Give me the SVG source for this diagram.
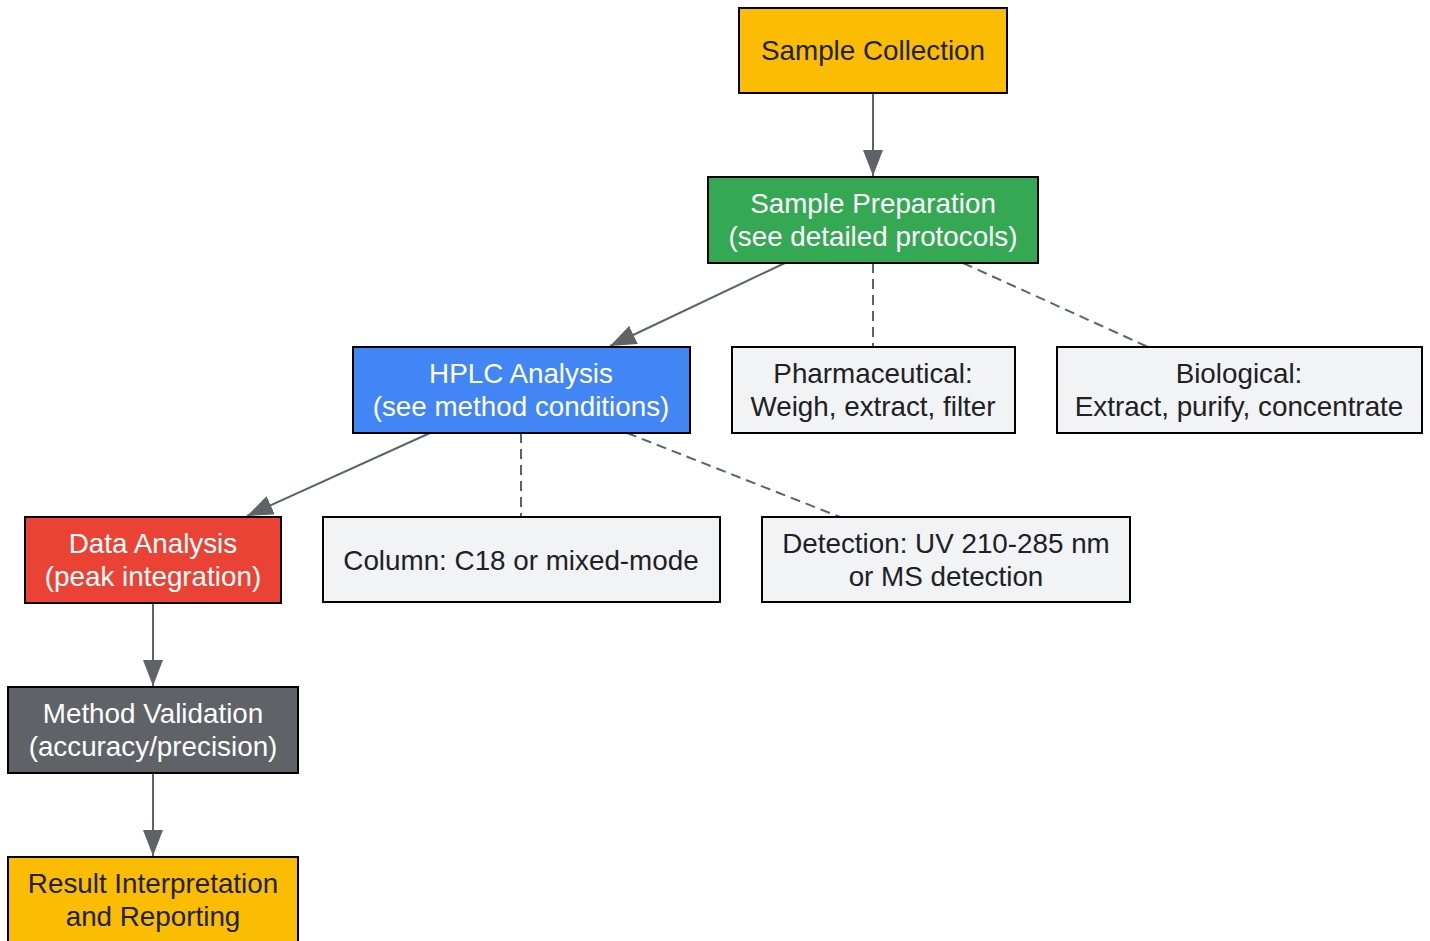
<svg xmlns="http://www.w3.org/2000/svg" width="1430" height="941" viewBox="0 0 1430 941">
<style>
.box{stroke:#000;stroke-width:2}
.t{font-family:"Liberation Sans",Arial,sans-serif;font-size:27.8px;text-anchor:middle}
.dk{fill:#202124}
.wh{fill:#ffffff}
.e{stroke:#5F6368;stroke-width:2;fill:none}
.d{stroke-dasharray:10,6}
</style>
<defs>
<marker id="ah" markerWidth="26" markerHeight="20" refX="26" refY="10" orient="auto" markerUnits="userSpaceOnUse">
<path d="M0,0 L26,10 L0,20 Z" fill="#5F6368"/>
</marker>
</defs>
<rect width="1430" height="941" fill="#ffffff"/>
<g id="connectors">
<line class="e" x1="873" y1="93" x2="873" y2="176" marker-end="url(#ah)"/>
<line class="e" x1="785" y1="263" x2="610" y2="346" marker-end="url(#ah)"/>
<line class="e d" x1="873" y1="263" x2="873" y2="347"/>
<line class="e d" x1="963" y1="263" x2="1148" y2="347"/>
<line class="e" x1="430" y1="433" x2="247" y2="516" marker-end="url(#ah)"/>
<line class="e d" x1="521" y1="433" x2="521" y2="517"/>
<line class="e d" x1="627" y1="433" x2="840" y2="517"/>
<line class="e" x1="153" y1="603" x2="153" y2="686" marker-end="url(#ah)"/>
<line class="e" x1="153" y1="773" x2="153" y2="856" marker-end="url(#ah)"/>
</g>
<g id="sample-collection">
<rect class="box" x="739" y="8" width="268" height="85" fill="#FBBC04"/>
<text class="t dk" x="873" y="60">Sample Collection</text>
</g>
<g id="sample-preparation">
<rect class="box" x="708" y="177" width="330" height="86" fill="#34A853"/>
<text class="t wh" x="873" y="213">Sample Preparation</text>
<text class="t wh" x="873" y="246">(see detailed protocols)</text>
</g>
<g id="hplc">
<rect class="box" x="353" y="347" width="337" height="86" fill="#4285F4"/>
<text class="t wh" x="521" y="383">HPLC Analysis</text>
<text class="t wh" x="521" y="416">(see method conditions)</text>
</g>
<g id="pharmaceutical">
<rect class="box" x="732" y="347" width="283" height="86" fill="#F1F3F4"/>
<text class="t dk" x="873" y="383">Pharmaceutical:</text>
<text class="t dk" x="873" y="416">Weigh, extract, filter</text>
</g>
<g id="biological">
<rect class="box" x="1057" y="347" width="365" height="86" fill="#F1F3F4"/>
<text class="t dk" x="1239" y="383">Biological:</text>
<text class="t dk" x="1239" y="416">Extract, purify, concentrate</text>
</g>
<g id="data-analysis">
<rect class="box" x="25" y="517" width="256" height="86" fill="#EA4335"/>
<text class="t wh" x="153" y="553">Data Analysis</text>
<text class="t wh" x="153" y="586">(peak integration)</text>
</g>
<g id="column">
<rect class="box" x="323" y="517" width="397" height="85" fill="#F1F3F4"/>
<text class="t dk" x="521" y="570">Column: C18 or mixed-mode</text>
</g>
<g id="detection">
<rect class="box" x="762" y="517" width="368" height="85" fill="#F1F3F4"/>
<text class="t dk" x="946" y="553">Detection: UV 210-285 nm</text>
<text class="t dk" x="946" y="586">or MS detection</text>
</g>
<g id="method-validation">
<rect class="box" x="8" y="687" width="290" height="86" fill="#5F6368"/>
<text class="t wh" x="153" y="723">Method Validation</text>
<text class="t wh" x="153" y="756">(accuracy/precision)</text>
</g>
<g id="result">
<rect class="box" x="8" y="857" width="290" height="90" fill="#FBBC04"/>
<text class="t dk" x="153" y="893">Result Interpretation</text>
<text class="t dk" x="153" y="926">and Reporting</text>
</g>
</svg>
